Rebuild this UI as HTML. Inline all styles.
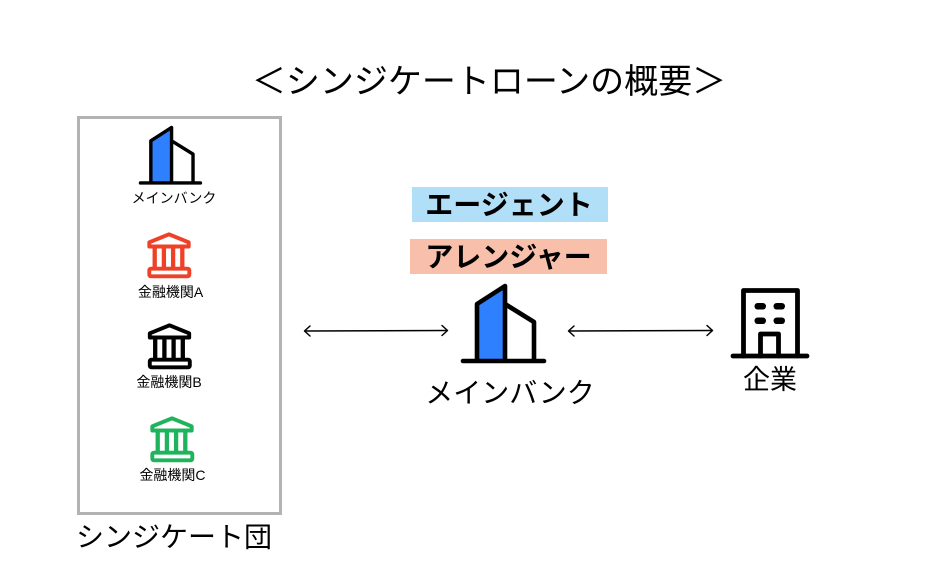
<!DOCTYPE html>
<html>
<head>
<meta charset="utf-8">
<style>
html,body{margin:0;padding:0;background:#fff;}
body{width:949px;height:577px;overflow:hidden;}
svg{display:block;}
text{font-family:"Liberation Sans","Noto Sans CJK JP",sans-serif;fill:#000;}
</style>
</head>
<body>
<svg width="949" height="577" viewBox="0 0 949 577" xmlns="http://www.w3.org/2000/svg">
  <defs>
    <g id="bldg">
      <path d="M16,77 L16,20 L44,2 L44,77 Z" fill="#2f80ff" stroke="none"/>
      <path d="M16,77 L16,20 L44,2 L44,77" fill="none" stroke="#000" stroke-width="4.6" stroke-linejoin="round"/>
      <path d="M44,20 L73,38 L73,77" fill="none" stroke="#000" stroke-width="4.6" stroke-linejoin="round"/>
      <line x1="2" y1="77" x2="83" y2="77" stroke="#000" stroke-width="4.6" stroke-linecap="round"/>
    </g>
    <g id="bank">
      <path d="M1.8,9.8 L21.5,1.8 L41.2,9.8 L41.2,14 L1.8,14 Z" fill="none" stroke-width="3.9" stroke-linejoin="round"/>
      <line x1="7.2" y1="14" x2="7.2" y2="36" stroke-width="4.3"/>
      <line x1="16.4" y1="14" x2="16.4" y2="36" stroke-width="4.3"/>
      <line x1="25.6" y1="14" x2="25.6" y2="36" stroke-width="4.3"/>
      <line x1="34.8" y1="14" x2="34.8" y2="36" stroke-width="4.3"/>
      <rect x="1.8" y="36.2" width="40" height="7.6" rx="1.6" fill="none" stroke-width="3.9"/>
    </g>
  </defs>

  <!-- Title -->
  <text x="489" y="82" font-size="34" text-anchor="middle" dominant-baseline="central">＜シンジケートローンの概要＞</text>

  <!-- Syndicate box -->
  <rect x="78.5" y="117.5" width="202" height="396" fill="none" stroke="#b3b3b3" stroke-width="3"/>

  <!-- small main bank -->
  <use href="#bldg" transform="translate(139,126) scale(0.74)"/>
  <text x="174" y="198" font-size="14" text-anchor="middle" dominant-baseline="central">メインバンク</text>

  <!-- bank A -->
  <use href="#bank" transform="translate(147.5,232.5)" stroke="#ee4127"/>
  <text x="170.5" y="292" font-size="14" text-anchor="middle" dominant-baseline="central">金融機関A</text>

  <!-- bank B -->
  <use href="#bank" transform="translate(148,323.5)" stroke="#000"/>
  <text x="169" y="382" font-size="14" text-anchor="middle" dominant-baseline="central">金融機関B</text>

  <!-- bank C -->
  <use href="#bank" transform="translate(150.5,416.5)" stroke="#1fb45c"/>
  <text x="172.5" y="475" font-size="14" text-anchor="middle" dominant-baseline="central">金融機関C</text>

  <!-- Syndicate label -->
  <text x="174" y="537" font-size="28" text-anchor="middle" dominant-baseline="central">シンジケート団</text>

  <!-- Arrows -->
  <g stroke="#000" stroke-width="1.5" fill="none" stroke-linecap="round" stroke-linejoin="round">
    <line x1="305" y1="331" x2="447" y2="330.5"/>
    <path d="M310,326 L304.5,331 L310,336"/>
    <path d="M442,325.5 L447.5,330.5 L442,335.5"/>
    <line x1="569" y1="331" x2="712" y2="330.5"/>
    <path d="M574,326 L568.5,331 L574,336"/>
    <path d="M707,325.5 L712.5,330.5 L707,335.5"/>
  </g>

  <!-- Agent / Arranger labels -->
  <rect x="412" y="187" width="196" height="35" fill="#b1dff8"/>
  <text x="509" y="205" font-size="28" font-weight="bold" text-anchor="middle" dominant-baseline="central">エージェント</text>
  <rect x="410" y="239" width="197" height="35" fill="#f8bfab"/>
  <text x="508.5" y="257" font-size="28" font-weight="bold" text-anchor="middle" dominant-baseline="central">アレンジャー</text>

  <!-- big main bank -->
  <use href="#bldg" transform="translate(461,284)"/>
  <text x="510" y="393" font-size="28" text-anchor="middle" dominant-baseline="central">メインバンク</text>

  <!-- Company -->
  <g stroke="#000" fill="none" stroke-width="4.8" stroke-linecap="round" stroke-linejoin="round">
    <path d="M743.5,356 L743.5,290.5 L797.5,290.5 L797.5,356"/>
    <line x1="733" y1="356" x2="807" y2="356"/>
    <path d="M760.5,356 L760.5,334 L778.5,334 L778.5,356"/>
  </g>
  <g fill="#000">
    <rect x="754.5" y="303" width="11.5" height="6.5" rx="3.2"/>
    <rect x="773.5" y="303" width="11.5" height="6.5" rx="3.2"/>
    <rect x="754.5" y="317.5" width="11.5" height="6.5" rx="3.2"/>
    <rect x="773.5" y="317.5" width="11.5" height="6.5" rx="3.2"/>
  </g>
  <text x="770" y="380" font-size="27" text-anchor="middle" dominant-baseline="central">企業</text>
</svg>
</body>
</html>
